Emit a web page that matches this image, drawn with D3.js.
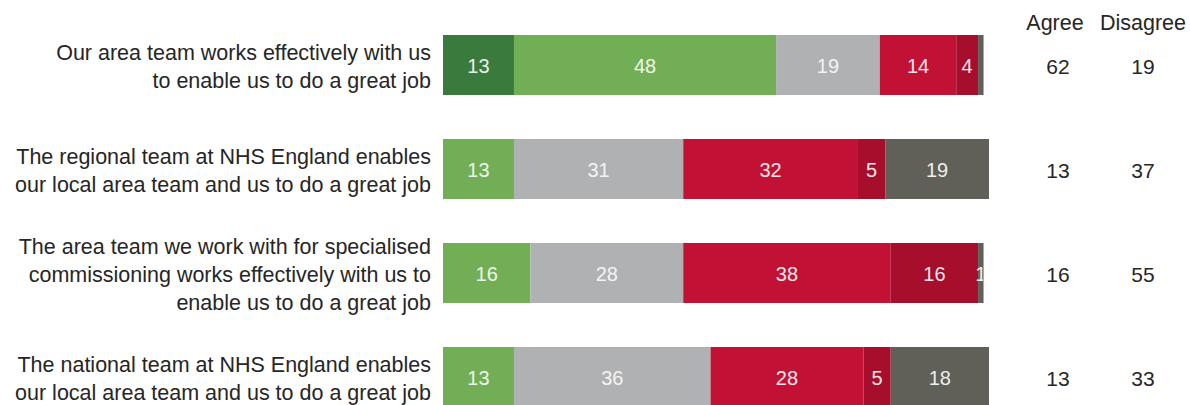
<!DOCTYPE html>
<html><head><meta charset="utf-8">
<script src="https://cdn.jsdelivr.net/npm/d3@7"></script>
<style>body{margin:0;background:#fff}svg{display:block}</style>
</head><body>
<svg id="c" width="1190" height="405"></svg>
<script>
const questions = [
  ["Our area team works effectively with us", "to enable us to do a great job"],
  ["The regional team at NHS England enables", "our local area team and us to do a great job"],
  ["The area team we work with for specialised", "commissioning works effectively with us to", "enable us to do a great job"],
  ["The national team at NHS England enables", "our local area team and us to do a great job"]
];
const seriesNames = ["Strongly agree", "Tend to agree", "Neither", "Tend to disagree", "Strongly disagree", "Don't know"];
const stronglyAgree   = [13, 0, 0, 0];
const tendAgree       = [48, 13, 16, 13];
const neither         = [19, 31, 28, 36];
const tendDisagree    = [14, 32, 38, 28];
const stronglyDisagree= [4, 5, 16, 5];
const dontKnow        = [1, 19, 1, 18];
const showDontKnowLabel = [false, true, true, true];
const agreeTotals    = [62, 13, 16, 13];
const disagreeTotals = [19, 37, 55, 33];
const colHeaders = ["Agree", "Disagree"];

const colors = ["#3b7a3d", "#72ae55", "#b0b1b3", "#c11134", "#a60e2c", "#605f58"];
const textColors = ["#e8f0e6", "#eef5ea", "#f4f4f4", "#f6e6ea", "#f6e6ea", "#eeeeea"];

const series = [stronglyAgree, tendAgree, neither, tendDisagree, stronglyDisagree, dontKnow];
const svg = d3.select("#c");
const font = "'Liberation Sans', Arial, sans-serif";

const x = d3.scaleLinear().domain([0, 100]).range([443, 989]);
const y = d3.scalePoint().domain(d3.range(questions.length)).range([65, 377]);
const barH = 60;

svg.append("defs").append("clipPath").attr("id", "lblclip")
  .append("rect").attr("x", 443).attr("y", 0).attr("width", 983 - 443).attr("height", 405);

questions.forEach((q, i) => {
  let cum = 0;
  const g = svg.append("g");
  const segs = series.map((s, k) => {
    const v = s[i];
    const seg = {k, v, x0: cum, x1: cum + v};
    cum += v;
    return seg;
  }).filter(d => d.v > 0);
  g.selectAll("rect").data(segs).join("rect")
    .attr("x", d => x(d.x0))
    .attr("width", d => x(d.x1) - x(d.x0))
    .attr("y", y(i) - barH / 2)
    .attr("height", barH)
    .attr("fill", d => colors[d.k]);
  g.append("g").attr("clip-path", "url(#lblclip)")
    .selectAll("text").data(segs.filter(d => d.k !== 5 || showDontKnowLabel[i])).join("text")
    .attr("x", d => (x(d.x0) + x(d.x1)) / 2)
    .attr("y", y(i) + 1)
    .attr("dy", "0.35em")
    .attr("text-anchor", "middle")
    .attr("font-family", font)
    .attr("font-size", 20)
    .attr("fill", d => textColors[d.k])
    .text(d => d.v);

  // question label
  const n = q.length;
  const lh = 28;
  svg.append("text")
    .attr("text-anchor", "end")
    .attr("font-family", font)
    .attr("font-size", 21.5)
    .attr("fill", "#262626")
    .selectAll("tspan").data(q).join("tspan")
    .attr("x", 431)
    .attr("y", (d, j) => y(i) + (j - (n - 1) / 2) * lh + 1)
    .attr("dy", "0.35em")
    .text(d => d);

  // totals
  [agreeTotals[i], disagreeTotals[i]].forEach((v, j) => {
    svg.append("text")
      .attr("x", j === 0 ? 1058 : 1143)
      .attr("y", y(i) + 2)
      .attr("dy", "0.35em")
      .attr("text-anchor", "middle")
      .attr("font-family", font)
      .attr("font-size", 21)
      .attr("fill", "#262626")
      .text(v);
  });
});

colHeaders.forEach((h, j) => {
  svg.append("text")
    .attr("x", j === 0 ? 1055 : 1143)
    .attr("y", 22)
    .attr("dy", "0.35em")
    .attr("text-anchor", "middle")
    .attr("font-family", font)
    .attr("font-size", 21.5)
    .attr("fill", "#262626")
    .text(h);
});
</script>
</body></html>
